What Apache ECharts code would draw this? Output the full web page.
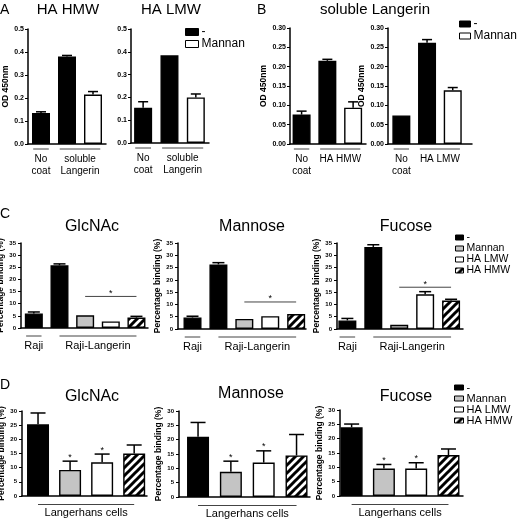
<!DOCTYPE html>
<html><head><meta charset="utf-8">
<script src="https://cdn.jsdelivr.net/npm/echarts@6/dist/echarts.min.js"></script>
<style>html,body{margin:0;padding:0;background:#fff}#c{width:520px;height:519px}</style>
</head><body><div id="c"></div>
<script>
// ================= DATA =================
// Panel A (OD 450nm)
const aHmwMean = [0.135, 0.38, 0.215];
const aHmwErr  = [0.140, 0.385, 0.228];
const aLmwMean = [0.155, 0.385, 0.200];
const aLmwErr  = [0.181, 0.388, 0.215];
const aGroupLabels = ['No\ncoat', 'soluble\nLangerin'];
// Panel B (OD 450nm)
const bHmwMean = [0.076, 0.215, 0.094];
const bHmwErr  = [0.085, 0.219, 0.109];
const bLmwMean = [0.074, 0.262, 0.139];
const bLmwErr  = [0.074, 0.270, 0.146];
const bHmwGroupLabels = ['No\ncoat', 'HA HMW'];
const bLmwGroupLabels = ['No\ncoat', 'HA LMW'];
const abTreat = ['-', '-', 'Mannan'];
const abGroupSpans = [[0, 0], [1, 2]];
const aTicks = [0.0, 0.1, 0.2, 0.3, 0.4, 0.5];
const bTicks = [0.00, 0.05, 0.10, 0.15, 0.20, 0.25, 0.30];
// Panel C (Percentage binding, Raji / Raji-Langerin)
const cTreat = ['-', '-', 'Mannan', 'HA LMW', 'HA HMW'];
const cGlcMean = [6.0, 25.8, 5.2, 2.7, 4.3];
const cGlcErr  = [6.6, 26.4, 5.3, 2.8, 4.8];
const cManMean = [4.7, 26.3, 4.1, 5.2, 6.1];
const cManErr  = [5.2, 27.0, 4.4, 5.4, 6.5];
const cFucMean = [3.5, 33.4, 1.7, 14.1, 11.6];
const cFucErr  = [4.3, 34.3, 2.0, 15.2, 12.1];
const cGroupLabels = ['Raji', 'Raji-Langerin'];
const cGroupSpans = [[0, 0], [1, 4]];
const cGlcSig = [2, 4, 13];
const cManSig = [2, 4, 11];
const cFucSig = [2, 4, 17];
const cTicks = [0, 5, 10, 15, 20, 25, 30, 35];
// Panel D (Percentage binding, Langerhans cells)
const dTreat = ['-', 'Mannan', 'HA LMW', 'HA HMW'];
const dGlcMean = [25.3, 9.2, 11.9, 15.0];
const dGlcErr  = [29.3, 12.3, 14.8, 18.0];
const dManMean = [21.0, 8.8, 12.0, 14.5];
const dManErr  = [26.0, 12.5, 16.1, 21.8];
const dFucMean = [24.0, 9.6, 9.6, 14.3];
const dFucErr  = [25.1, 11.0, 11.6, 16.4];
const dStars = [1, 2];
const dGroupLabels = ['Langerhans cells'];
const dGroupSpans = [[0, 3]];
const dTicks = [0, 5, 10, 15, 20, 25, 30];
const legendAB = ['-', 'Mannan'];
const legendCD = ['-', 'Mannan', 'HA LMW', 'HA HMW'];

// ================= STYLE =================
const FONT = '"Liberation Sans", Arial, Helvetica, sans-serif';
function makeHatch() {
  const s = 4, k = 2;
  const cv = document.createElement('canvas');
  cv.width = cv.height = s * k;
  const ctx = cv.getContext('2d');
  ctx.scale(k, k);
  ctx.fillStyle = '#fff'; ctx.fillRect(0, 0, s, s);
  ctx.strokeStyle = '#000'; ctx.lineWidth = 1.5; ctx.lineCap = 'square';
  ctx.beginPath();
  ctx.moveTo(-1, s + 1); ctx.lineTo(s + 1, -1);
  ctx.moveTo(-1, 1); ctx.lineTo(1, -1);
  ctx.moveTo(s - 1, s + 1); ctx.lineTo(s + 1, s - 1);
  ctx.stroke();
  return cv;
}
const hatch = { image: makeHatch(), repeat: 'repeat', imageWidth: 4, imageHeight: 4 };
const fillsAB = { '-': '#000', 'Mannan': '#fff' };
const fillsCD = { '-': '#000', 'Mannan': '#c4c4c4', 'HA LMW': '#fff', 'HA HMW': hatch };

const styAB = { fills: fillsAB, bw: 18, cap: 10, tickFs: 7, tickMargin: 4, nameFs: 8.5, grpFs: 10, grpLH: 12, lineOff: 5, textOff: 4, padSingle: 0.3, padMulti: 0.28 };
const styC  = { fills: fillsCD, bw: 18, cap: 12, tickFs: 6, tickMargin: 5, nameFs: 8.5, grpFs: 11, grpLH: 13, lineOff: 8, textOff: 3.5, padSingle: 0.3, padMulti: 0 };
const styD  = { fills: fillsCD, bw: 22, cap: 15, tickFs: 6, tickMargin: 5, nameFs: 8.5, grpFs: 11, grpLH: 13, lineOff: 8.5, textOff: 2, padSingle: 0.3, padMulti: 0 };

const panels = [
  { mean: aHmwMean, err: aHmwErr, treat: abTreat, labels: aGroupLabels, spans: abGroupSpans, ticks: aTicks, dec: 1, sty: styAB,
    grid: { left: 28, top: 29, width: 78, height: 115 }, x: [-0.5, 2.5], yName: 'OD 450nm', nameGap: 18 },
  { mean: aLmwMean, err: aLmwErr, treat: abTreat, labels: aGroupLabels, spans: abGroupSpans, ticks: aTicks, dec: 1, sty: styAB,
    grid: { left: 131, top: 29, width: 78, height: 114 }, x: [-0.46, 2.5], yName: '', nameGap: 18 },
  { mean: bHmwMean, err: bHmwErr, treat: abTreat, labels: bHmwGroupLabels, spans: abGroupSpans, ticks: bTicks, dec: 2, sty: styAB,
    grid: { left: 290, top: 28, width: 76, height: 116 }, x: [-0.45, 2.5], yName: 'OD 450nm', nameGap: 21 },
  { mean: bLmwMean, err: bLmwErr, treat: abTreat, labels: bLmwGroupLabels, spans: abGroupSpans, ticks: bTicks, dec: 2, sty: styAB,
    grid: { left: 388, top: 28, width: 84, height: 116 }, x: [-0.52, 2.75], yName: 'OD 450nm', nameGap: 19 },
  { mean: cGlcMean, err: cGlcErr, treat: cTreat, labels: cGroupLabels, spans: cGroupSpans, ticks: cTicks, dec: 0, sty: styC, sig: cGlcSig,
    grid: { left: 21, top: 243, width: 127, height: 85 }, x: [-0.5, 4.45], yName: 'Percentage binding (%)', nameGap: 11 },
  { mean: cManMean, err: cManErr, treat: cTreat, labels: cGroupLabels, spans: cGroupSpans, ticks: cTicks, dec: 0, sty: styC, sig: cManSig,
    grid: { left: 178, top: 243, width: 128, height: 86 }, x: [-0.56, 4.38], yName: 'Percentage binding (%)', nameGap: 11 },
  { mean: cFucMean, err: cFucErr, treat: cTreat, labels: cGroupLabels, spans: cGroupSpans, ticks: cTicks, dec: 0, sty: styC, sig: cFucSig,
    grid: { left: 337, top: 243, width: 126, height: 86 }, x: [-0.4, 4.46], yName: 'Percentage binding (%)', nameGap: 13 },
  { mean: dGlcMean, err: dGlcErr, treat: dTreat, labels: dGroupLabels, spans: dGroupSpans, ticks: dTicks, dec: 0, sty: styD, stars: dStars,
    grid: { left: 22, top: 411, width: 125, height: 85 }, x: [-0.5, 3.4], yName: 'Percentage binding (%)', nameGap: 13 },
  { mean: dManMean, err: dManErr, treat: dTreat, labels: dGroupLabels, spans: dGroupSpans, ticks: dTicks, dec: 0, sty: styD, stars: dStars,
    grid: { left: 179, top: 411, width: 131, height: 86 }, x: [-0.58, 3.41], yName: 'Percentage binding (%)', nameGap: 11 },
  { mean: dFucMean, err: dFucErr, treat: dTreat, labels: dGroupLabels, spans: dGroupSpans, ticks: dTicks, dec: 0, sty: styD, stars: dStars,
    grid: { left: 340, top: 410, width: 123, height: 86 }, x: [-0.36, 3.45], yName: 'Percentage binding (%)', nameGap: 16 }
];

const titleDefs = [
  { text: 'A', x: 0, y: 3, fs: 14, align: 'left' },
  { text: 'HA HMW', x: 68, y: 2, fs: 15 },
  { text: 'HA LMW', x: 171, y: 2, fs: 15 },
  { text: 'B', x: 257, y: 3, fs: 14, align: 'left' },
  { text: 'soluble Langerin', x: 375, y: 2, fs: 15 },
  { text: 'C', x: 0, y: 207, fs: 14, align: 'left' },
  { text: 'GlcNAc', x: 92, y: 219, fs: 16 },
  { text: 'Mannose', x: 252, y: 219, fs: 16 },
  { text: 'Fucose', x: 406, y: 219, fs: 16 },
  { text: 'D', x: 0, y: 378, fs: 14, align: 'left' },
  { text: 'GlcNAc', x: 92, y: 389, fs: 16 },
  { text: 'Mannose', x: 251, y: 386, fs: 16 },
  { text: 'Fucose', x: 406, y: 389, fs: 16 }
];

// ================= BUILD =================
const grids = [], xAxes = [], yAxes = [], series = [];
panels.forEach((p, i) => {
  const s = p.sty;
  grids.push(Object.assign({ containLabel: false, outerBoundsMode: 'none' }, p.grid));
  xAxes.push({ type: 'value', gridIndex: i, min: p.x[0], max: p.x[1],
    axisLine: { onZero: false, lineStyle: { color: '#000', width: 1.5 } },
    axisTick: { show: false }, axisLabel: { show: false }, splitLine: { show: false } });
  const t = p.ticks;
  yAxes.push({ type: 'value', gridIndex: i, min: t[0], max: t[t.length - 1], interval: t[1] - t[0],
    name: p.yName, nameLocation: 'middle', nameRotate: 90, nameGap: p.nameGap,
    nameTextStyle: { fontFamily: FONT, fontWeight: 'bold', fontSize: s.nameFs, color: '#000' },
    axisLine: { show: true, onZero: false, lineStyle: { color: '#000', width: 1.5 } },
    axisTick: { show: true, length: 3, lineStyle: { color: '#000', width: 1 } },
    axisLabel: { fontFamily: FONT, fontWeight: 'bold', fontSize: s.tickFs, color: '#000', margin: s.tickMargin,
      formatter: v => Number(v).toFixed(p.dec) },
    splitLine: { show: false } });
  // bars
  series.push({ type: 'bar', xAxisIndex: i, yAxisIndex: i, barWidth: s.bw, silent: true,
    itemStyle: { borderColor: '#000', borderWidth: 1.4 },
    data: p.mean.map((v, k) => ({ value: [k, v], itemStyle: { color: s.fills[p.treat[k]] } })) });
  // error bars (upper only)
  series.push({ type: 'custom', xAxisIndex: i, yAxisIndex: i, silent: true, z: 3,
    data: p.err.map((e, k) => [k, e, p.mean[k]]),
    renderItem: (params, api) => {
      const x = api.value(0), top = api.value(1), m = api.value(2);
      const p0 = api.coord([x, m]), p1 = api.coord([x, top]);
      if (p0[1] - p1[1] < 1) return null;
      const hw = s.cap / 2;
      return { type: 'group', children: [
        { type: 'line', shape: { x1: p0[0], y1: p0[1], x2: p1[0], y2: p1[1] }, style: { stroke: '#000', lineWidth: 1.5 } },
        { type: 'line', shape: { x1: p1[0] - hw, y1: p1[1], x2: p1[0] + hw, y2: p1[1] }, style: { stroke: '#000', lineWidth: 1.5 } }
      ] };
    } });
  // group underlines + labels
  series.push({ type: 'custom', xAxisIndex: i, yAxisIndex: i, silent: true, clip: false,
    data: p.spans.map(sp => [sp[0], sp[1]]),
    renderItem: (params, api) => {
      const f = api.value(0), to = api.value(1);
      const a = api.coord([f, t[0]]), b = api.coord([to, t[0]]);
      const band = api.size([1, 0])[0];
      const pad = (f === to ? s.padSingle : s.padMulti) * band;
      const y = a[1] + s.lineOff;
      return { type: 'group', children: [
        { type: 'line', shape: { x1: a[0] - pad, y1: y, x2: b[0] + pad, y2: y }, style: { stroke: '#444', lineWidth: 1 } },
        { type: 'text', x: (a[0] + b[0]) / 2, y: y + s.textOff,
          style: { text: p.labels[params.dataIndex], fill: '#000', fontFamily: FONT, fontSize: s.grpFs,
            lineHeight: s.grpLH, align: 'center', verticalAlign: 'top' } }
      ] };
    } });
  if (p.sig) {
    series.push({ type: 'custom', xAxisIndex: i, yAxisIndex: i, silent: true, clip: false,
      data: [p.sig],
      renderItem: (params, api) => {
        const a = api.coord([api.value(0), api.value(2)]), b = api.coord([api.value(1), api.value(2)]);
        return { type: 'group', children: [
          { type: 'line', shape: { x1: a[0], y1: a[1], x2: b[0], y2: b[1] }, style: { stroke: '#444', lineWidth: 1 } },
          { type: 'text', x: (a[0] + b[0]) / 2, y: a[1] - 3,
            style: { text: '*', fill: '#000', fontFamily: FONT, fontSize: 9, align: 'center', verticalAlign: 'middle' } }
        ] };
      } });
  }
  if (p.stars) {
    series.push({ type: 'custom', xAxisIndex: i, yAxisIndex: i, silent: true, clip: false,
      data: p.stars.map(k => [k, p.err[k]]),
      renderItem: (params, api) => {
        const c = api.coord([api.value(0), api.value(1)]);
        return { type: 'text', x: c[0], y: c[1] - 4,
          style: { text: '*', fill: '#000', fontFamily: FONT, fontSize: 9, align: 'center', verticalAlign: 'middle' } };
      } });
  }
});

// hidden grid for legend-only series
const hid = panels.length;
grids.push({ left: -200, top: -200, width: 10, height: 10, show: false });
xAxes.push({ type: 'value', gridIndex: hid, show: false });
yAxes.push({ type: 'value', gridIndex: hid, show: false });
legendCD.forEach(n => series.push({ type: 'bar', name: n, xAxisIndex: hid, yAxisIndex: hid, data: [],
  itemStyle: { color: fillsCD[n], borderColor: '#000', borderWidth: 1 } }));

function legend(names, fills, left, top, iw, ih, fs, lh) {
  return { orient: 'vertical', left, top, padding: 0, itemGap: 0, itemWidth: iw, itemHeight: ih, selectedMode: false,
    icon: 'rect',
    data: names.map(n => ({ name: n, itemStyle: { color: fills[n], borderColor: '#000', borderWidth: 1 } })),
    textStyle: { fontFamily: FONT, fontSize: fs, lineHeight: lh, color: '#000', padding: [0, 0, 0, -2] } };
}

const option = {
  animation: false,
  backgroundColor: '#fff',
  title: titleDefs.map(d => ({ text: d.text, left: d.x, top: d.y, padding: 0, textAlign: d.align || 'center',
    textStyle: { fontFamily: FONT, fontSize: d.fs, fontWeight: 'normal', color: '#000' } })),
  legend: [
    legend(legendAB, fillsAB, 185, 26, 13, 7, 12, 12),
    legend(legendAB, fillsAB, 459, 18, 11, 6, 12, 12),
    legend(legendCD, fillsCD, 455, 232, 8, 5, 10.5, 8.6),
    legend(legendCD, fillsCD, 454, 382, 9, 5, 11, 9)
  ],
  grid: grids, xAxis: xAxes, yAxis: yAxes, series
};
const chart = echarts.init(document.getElementById('c'), null, { renderer: 'canvas' });
chart.setOption(option);
</script></body></html>
